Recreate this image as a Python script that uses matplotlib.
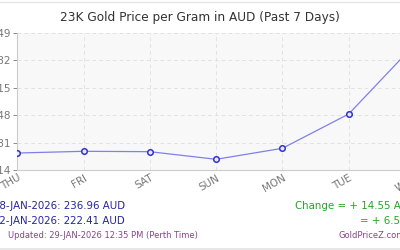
import matplotlib.pyplot as plt

# data
days = ['THU', 'FRI', 'SAT', 'SUN', 'MON', 'TUE', 'WED']
prices = [222.41, 222.64, 222.59, 221.57, 223.04, 227.62, 236.96]
y_ticks = [220.14, 223.81, 227.48, 231.15, 234.82, 238.49]

latest_label = '28-JAN-2026: 236.96 AUD'
first_label = '22-JAN-2026: 222.41 AUD'
change_label = 'Change = + 14.55 AUD'
pct_label = '= + 6.54%'
updated_label = 'Updated: 29-JAN-2026 12:35 PM (Perth Time)'

fig = plt.figure(figsize=(4, 2.5), dpi=100)
fig.patch.set_facecolor('white')

# plot area is wider than the picture (cropped on both sides)
ax = fig.add_axes([0.0433, 0.32, 0.994, 0.549])
ax.set_facecolor('#f8f8f8')

x = list(range(len(days)))
ax.plot(x, prices, color='#8080e8', lw=0.9, zorder=3)
ax.plot(x, prices, 'o', ms=4, mfc='#e8e8ff', mec='#3434c8', mew=1.1, zorder=4)

ax.set_xlim(0, len(days) - 1)
ax.set_ylim(y_ticks[0], y_ticks[-1])
ax.set_xticks(x)
ax.set_xticklabels(days, rotation=30, ha='right', rotation_mode='anchor')
ax.set_yticks(y_ticks)
ax.set_yticklabels(['%.2f' % v for v in y_ticks])
ax.tick_params(colors='#777777', labelsize=7.5, length=3, width=0.6, pad=2)
ax.tick_params(axis='x', length=0)

ax.grid(True, color='#e2e2e2', ls=(0, (4, 3)), lw=0.7)
for s in ['top', 'right']:
    ax.spines[s].set_visible(False)
for s in ['left', 'bottom']:
    ax.spines[s].set_color('#cccccc')
    ax.spines[s].set_linewidth(0.8)

fig.text(0.5, 0.928, '23K Gold Price per Gram in AUD (Past 7 Days)',
         ha='center', va='center', fontsize=8.7, color='#333333')

blue = '#2424a8'
green = '#22a822'
purple = '#884488'
fig.text(-0.018, 0.176, latest_label, fontsize=7.4, color=blue, va='center')
fig.text(-0.018, 0.117, first_label, fontsize=7.4, color=blue, va='center')
fig.text(1.04, 0.176, change_label, fontsize=7.4, color=green, va='center', ha='right')
fig.text(1.04, 0.117, pct_label, fontsize=7.4, color=green, va='center', ha='right')
fig.text(0.02, 0.056, updated_label, fontsize=6, color=purple, va='center')
fig.text(1.012, 0.056, 'GoldPriceZ.com', fontsize=6, color=purple, va='center', ha='right')

# faint frame lines
fig.add_artist(plt.Line2D([0, 1], [0.992, 0.992], color='#e6e6e6', lw=1))
fig.add_artist(plt.Line2D([0, 1], [0.004, 0.004], color='#e6e6e6', lw=2))

fig.savefig('out.png', dpi=100)
